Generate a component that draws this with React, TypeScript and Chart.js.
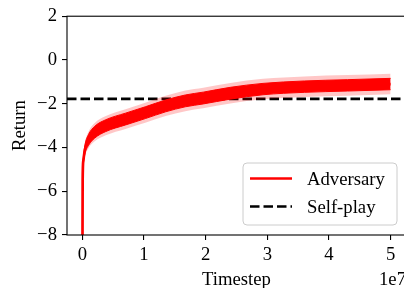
import React, { useEffect, useRef } from "react";
import { Chart, registerables } from "chart.js";

Chart.register(...registerables);

// Data (timestep in units of 1e7)
const timesteps = [0, 0.004, 0.015, 0.04, 0.1, 0.2, 0.38, 0.7, 1.02, 1.35, 1.67, 1.96, 2.4, 2.93, 3.6, 4.3, 5.0];
const adversaryMean = [-10, -5.5, -4.6, -4.1, -3.65, -3.3, -3.0, -2.7, -2.41, -2.1, -1.87, -1.74, -1.52, -1.33, -1.22, -1.16, -1.1];
const adversaryInner = [0.08, 0.1, 0.14, 0.2, 0.25, 0.27, 0.27, 0.27, 0.27, 0.27, 0.27, 0.27, 0.27, 0.26, 0.26, 0.26, 0.26];
const adversaryOuter = [0.12, 0.16, 0.22, 0.3, 0.38, 0.42, 0.44, 0.45, 0.46, 0.46, 0.47, 0.47, 0.47, 0.47, 0.47, 0.47, 0.47];
const selfPlayValue = -1.78;

const xTicks = [0, 1, 2, 3, 4, 5];
const xTickLabels = ["0", "1", "2", "3", "4", "5"];
const yTicks = [-8, -6, -4, -2, 0, 2];
const yTickLabels = ["\u22128", "\u22126", "\u22124", "\u22122", "0", "2"];
const xMin = -0.25;
const xMax = 5.25;
const yMin = -8;
const yMax = 2;

const FONT = "'Liberation Serif', 'DejaVu Serif', serif";
const FS = 18.7;

export default function App() {
  const ref = useRef<HTMLCanvasElement | null>(null);

  useEffect(() => {
    if (!ref.current) return;
    const pts = (arr: number[]) => timesteps.map((t, i) => ({ x: t, y: arr[i] }));
    const outerUp = adversaryMean.map((m, i) => m + adversaryOuter[i]);
    const outerLo = adversaryMean.map((m, i) => m - adversaryOuter[i]);
    const innerUp = adversaryMean.map((m, i) => m + adversaryInner[i]);
    const innerLo = adversaryMean.map((m, i) => m - adversaryInner[i]);

    const pink = "rgba(255,0,0,0.22)";
    const red = "rgb(255,0,0)";

    const decor = {
      id: "decor",
      afterDraw(chart: any) {
        const { ctx, chartArea: a } = chart;
        ctx.save();
        // spines
        ctx.strokeStyle = "#000";
        ctx.lineWidth = 1.1;
        ctx.strokeRect(a.left, a.top, a.right - a.left, a.bottom - a.top);
        // axis labels
        ctx.fillStyle = "#000";
        ctx.font = `${FS}px ${FONT}`;
        ctx.textAlign = "center";
        ctx.textBaseline = "alphabetic";
        ctx.fillText("Timestep", (a.left + a.right) / 2, 285);
        ctx.textAlign = "right";
        ctx.fillText("1e7", a.right, 285);
        ctx.save();
        ctx.translate(25, (a.top + a.bottom) / 2);
        ctx.rotate(-Math.PI / 2);
        ctx.textAlign = "center";
        ctx.fillText("Return", 0, 0);
        ctx.restore();
        // legend
        const lx = 243, ly = 163, lw = 154, lh = 62, r = 4;
        ctx.beginPath();
        ctx.moveTo(lx + r, ly);
        ctx.arcTo(lx + lw, ly, lx + lw, ly + lh, r);
        ctx.arcTo(lx + lw, ly + lh, lx, ly + lh, r);
        ctx.arcTo(lx, ly + lh, lx, ly, r);
        ctx.arcTo(lx, ly, lx + lw, ly, r);
        ctx.closePath();
        ctx.fillStyle = "rgba(255,255,255,0.8)";
        ctx.fill();
        ctx.strokeStyle = "#cccccc";
        ctx.lineWidth = 1;
        ctx.stroke();
        const items = [
          { label: chart.data.datasets[4].label, color: red, dash: [] as number[], y: 178.5 },
          { label: chart.data.datasets[5].label, color: "#000", dash: [9.5, 4], y: 206.5 },
        ];
        for (const it of items) {
          ctx.beginPath();
          ctx.setLineDash(it.dash);
          ctx.strokeStyle = it.color;
          ctx.lineWidth = 2.7;
          ctx.moveTo(250, it.y);
          ctx.lineTo(292, it.y);
          ctx.stroke();
          ctx.setLineDash([]);
          ctx.fillStyle = "#000";
          ctx.textAlign = "left";
          ctx.textBaseline = "alphabetic";
          ctx.fillText(it.label, 307, it.y + 6.8);
        }
        ctx.restore();
      },
    };

    const chart = new Chart(ref.current, {
      type: "line",
      data: {
        datasets: [
          { label: "outerUp", data: pts(outerUp), borderWidth: 0, pointRadius: 0, backgroundColor: pink, fill: "+1", cubicInterpolationMode: "monotone" },
          { label: "outerLo", data: pts(outerLo), borderWidth: 0, pointRadius: 0, backgroundColor: pink, fill: false, cubicInterpolationMode: "monotone" },
          { label: "innerUp", data: pts(innerUp), borderWidth: 1, borderColor: red, pointRadius: 0, backgroundColor: red, fill: "+1", cubicInterpolationMode: "monotone" },
          { label: "innerLo", data: pts(innerLo), borderWidth: 1, borderColor: red, pointRadius: 0, backgroundColor: red, fill: false, cubicInterpolationMode: "monotone" },
          { label: "Adversary", data: pts(adversaryMean), borderWidth: 2.7, borderColor: red, pointRadius: 0, fill: false, cubicInterpolationMode: "monotone" },
          { label: "Self-play", data: [{ x: xMin, y: selfPlayValue }, { x: xMax, y: selfPlayValue }], borderWidth: 2.7, borderColor: "#000", borderDash: [9.5, 4], pointRadius: 0, fill: false },
        ],
      },
      options: {
        responsive: false,
        animation: false,
        devicePixelRatio: 1,
        layout: { padding: { top: 13, right: 14, left: 0, bottom: 0 } },
        plugins: { legend: { display: false }, tooltip: { enabled: false } },
        scales: {
          x: {
            type: "linear",
            min: xMin,
            max: xMax,
            afterFit: (s: any) => { s.height = 53; },
            afterBuildTicks: (s: any) => { s.ticks = xTicks.map((v) => ({ value: v })); },
            border: { display: false },
            grid: { display: true, drawOnChartArea: false, drawTicks: true, tickLength: 5, color: "#000", lineWidth: 1.1 },
            ticks: {
              padding: 3.5,
              color: "#000",
              font: { family: FONT, size: FS },
              maxRotation: 0,
              autoSkip: false,
              callback: (v: any) => xTickLabels[xTicks.indexOf(Number(v))] ?? "",
            },
          },
          y: {
            type: "linear",
            min: yMin,
            max: yMax,
            afterFit: (s: any) => { s.width = 67; },
            afterBuildTicks: (s: any) => { s.ticks = yTicks.map((v) => ({ value: v })); },
            border: { display: false },
            grid: { display: true, drawOnChartArea: false, drawTicks: true, tickLength: 5, color: "#000", lineWidth: 1.1 },
            ticks: {
              padding: 5,
              color: "#000",
              font: { family: FONT, size: FS },
              autoSkip: false,
              callback: (v: any) => yTickLabels[yTicks.indexOf(Number(v))] ?? "",
            },
          },
        },
      },
      plugins: [decor],
    } as any);
    return () => chart.destroy();
  }, []);

  return (
    <div style={{ position: "fixed", left: 0, top: 0, width: 404, height: 288, overflow: "hidden", background: "#fff" }}>
      <canvas ref={ref} width={420} height={288} style={{ display: "block", width: 420, height: 288 }} />
    </div>
  );
}
